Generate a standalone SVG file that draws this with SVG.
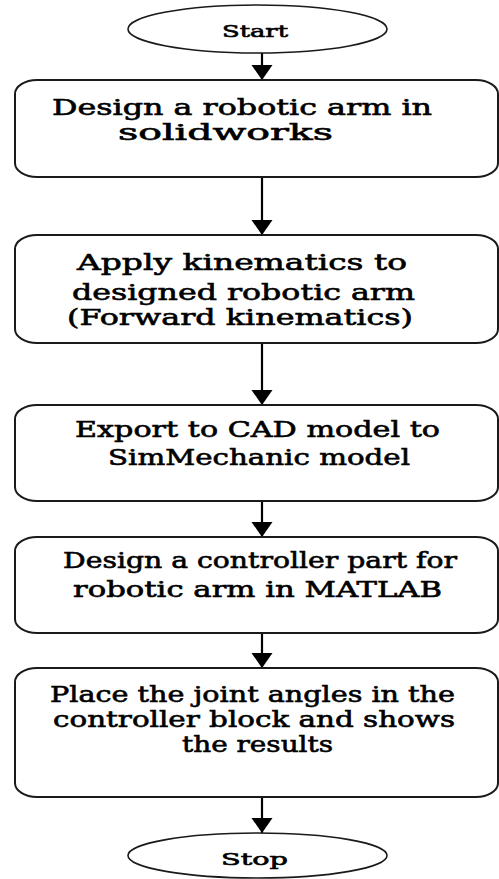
<svg xmlns="http://www.w3.org/2000/svg" width="499" height="879" viewBox="0 0 499 879">
  <style>
    .box { fill: #ffffff; stroke: #1a1a1a; stroke-width: 2; }
    .term { fill: #ffffff; stroke: #1a1a1a; stroke-width: 1.6; }
    .lbl { font-family: "DejaVu Serif", "Liberation Serif", serif; font-size: 22px; font-weight: normal; fill: #000000; stroke: #000000; stroke-width: 0.6; }
    .tlbl { font-family: "DejaVu Serif", "Liberation Serif", serif; font-size: 17px; font-weight: normal; fill: #000000; stroke: #000000; stroke-width: 0.6; }
    .conn { stroke: #000000; stroke-width: 2.2; fill: none; }
  </style>
  <defs>
    <marker id="arrow" markerUnits="userSpaceOnUse" markerWidth="16" markerHeight="22" refX="15" refY="10.5" orient="auto" viewBox="0 0 16 22">
      <path d="M0,0 L15,10.5 L0,21 Z" fill="#000000"/>
    </marker>
  </defs>
  <rect width="499" height="879" fill="#ffffff"/>

  <g id="connectors">
    <path class="conn" d="M262,53 L262,80" marker-end="url(#arrow)"/>
    <path class="conn" d="M262,177 L262,235" marker-end="url(#arrow)"/>
    <path class="conn" d="M262,343 L262,405" marker-end="url(#arrow)"/>
    <path class="conn" d="M262,501 L262,537" marker-end="url(#arrow)"/>
    <path class="conn" d="M262,633 L262,668" marker-end="url(#arrow)"/>
    <path class="conn" d="M262,797 L262,833" marker-end="url(#arrow)"/>
  </g>

  <g id="start">
    <ellipse class="term" cx="257.5" cy="29" rx="129.5" ry="24"/>
    <text class="tlbl" x="222" y="37" textLength="66" lengthAdjust="spacingAndGlyphs">Start</text>
  </g>

  <g id="design-arm">
    <rect class="box" x="15" y="80" width="483" height="97" rx="22" ry="14"/>
    <text class="lbl" x="52" y="115" textLength="380" lengthAdjust="spacingAndGlyphs">Design a robotic arm in</text>
    <text class="lbl" x="118" y="140" textLength="215" lengthAdjust="spacingAndGlyphs">solidworks</text>
  </g>

  <g id="kinematics">
    <rect class="box" x="15" y="235" width="483" height="108" rx="22" ry="14"/>
    <text class="lbl" x="77" y="270" textLength="330" lengthAdjust="spacingAndGlyphs">Apply kinematics to</text>
    <text class="lbl" x="72" y="300" textLength="343" lengthAdjust="spacingAndGlyphs">designed robotic arm</text>
    <text class="lbl" x="67" y="325" textLength="346" lengthAdjust="spacingAndGlyphs">(Forward kinematics)</text>
  </g>

  <g id="export">
    <rect class="box" x="15" y="405" width="483" height="96" rx="22" ry="14"/>
    <text class="lbl" x="75" y="437" textLength="365" lengthAdjust="spacingAndGlyphs">Export to CAD model to</text>
    <text class="lbl" x="108" y="465" textLength="302" lengthAdjust="spacingAndGlyphs">SimMechanic model</text>
  </g>

  <g id="controller">
    <rect class="box" x="15" y="537" width="483" height="96" rx="22" ry="14"/>
    <text class="lbl" x="63" y="568" textLength="394" lengthAdjust="spacingAndGlyphs">Design a controller part for</text>
    <text class="lbl" x="73" y="597" textLength="369" lengthAdjust="spacingAndGlyphs">robotic arm in MATLAB</text>
  </g>

  <g id="results">
    <rect class="box" x="15" y="668" width="483" height="129" rx="22" ry="14"/>
    <text class="lbl" x="50" y="702" textLength="405" lengthAdjust="spacingAndGlyphs">Place the joint angles in the</text>
    <text class="lbl" x="53" y="727" textLength="402" lengthAdjust="spacingAndGlyphs">controller block and shows</text>
    <text class="lbl" x="182" y="752" textLength="151" lengthAdjust="spacingAndGlyphs">the results</text>
  </g>

  <g id="stop">
    <ellipse class="term" cx="257.5" cy="855.5" rx="129.5" ry="22.5"/>
    <text class="tlbl" x="221" y="865" textLength="67" lengthAdjust="spacingAndGlyphs">Stop</text>
  </g>
</svg>
